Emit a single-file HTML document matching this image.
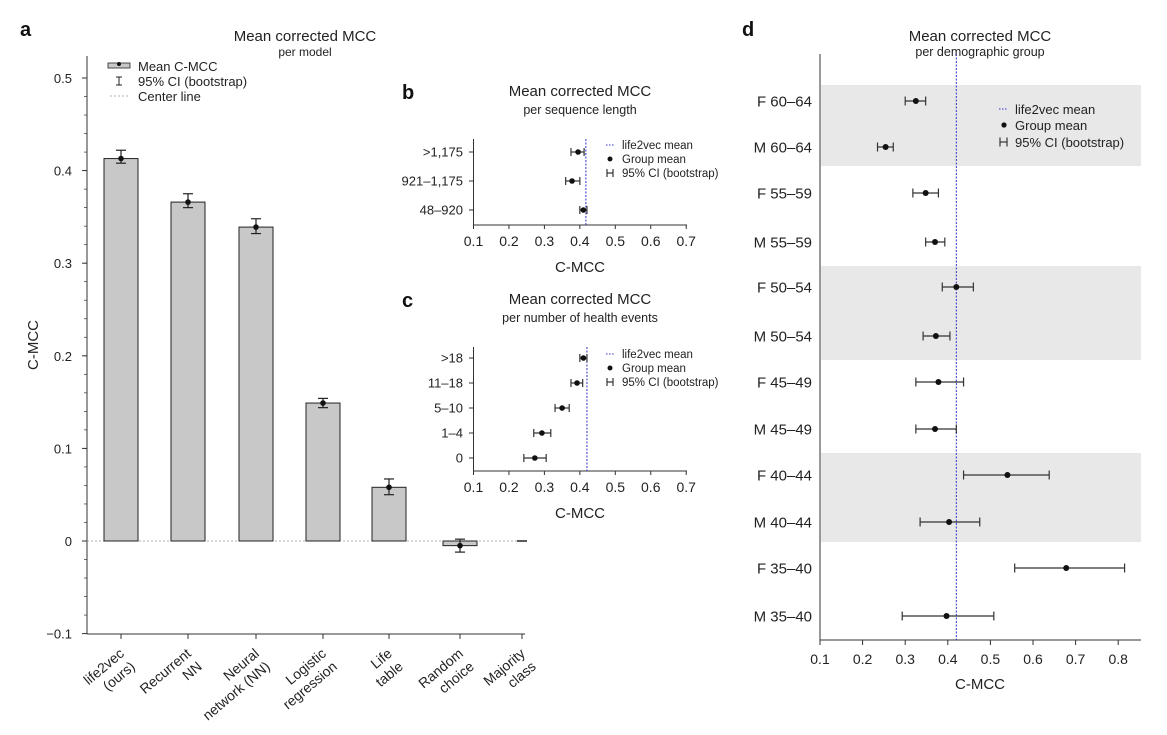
<!DOCTYPE html>
<html><head><meta charset="utf-8"><style>
body{margin:0;background:#fff}
svg{display:block;font-family:"Liberation Sans",sans-serif;fill:#222}
</style></head><body>
<svg id="s" width="1167" height="735"></svg>
<script>
// Panel a data
const aCats=["life2vec\n(ours)","Recurrent\nNN","Neural\nnetwork (NN)","Logistic\nregression","Life\ntable","Random\nchoice","Majority\nclass"];
const aVals=[0.413,0.366,0.339,0.149,0.058,-0.005,0];
const aLo=[0.408,0.360,0.332,0.144,0.050,-0.012,0];
const aHi=[0.422,0.375,0.348,0.154,0.067,0.002,0];
const aTicks=[-0.1,0,0.1,0.2,0.3,0.4,0.5];
// Panel b data
const bCats=[">1,175","921–1,175","48–920"];
const bVals=[0.395,0.378,0.410];
const bLo=[0.375,0.360,0.400];
const bHi=[0.412,0.400,0.420];
const bMean=0.417;
// Panel c data
const cCats=[">18","11–18","5–10","1–4","0"];
const cVals=[0.410,0.392,0.350,0.293,0.273];
const cLo=[0.400,0.375,0.330,0.270,0.242];
const cHi=[0.420,0.408,0.370,0.318,0.305];
const cMean=0.420;
const bcTicks=[0.1,0.2,0.3,0.4,0.5,0.6,0.7];
// Panel d data
const dCats=["F 60–64","M 60–64","F 55–59","M 55–59","F 50–54","M 50–54","F 45–49","M 45–49","F 40–44","M 40–44","F 35–40","M 35–40"];
const dVals=[0.325,0.254,0.348,0.370,0.420,0.372,0.378,0.370,0.540,0.403,0.678,0.397];
const dLo=[0.300,0.235,0.318,0.348,0.387,0.342,0.325,0.325,0.437,0.335,0.557,0.293];
const dHi=[0.348,0.272,0.378,0.393,0.460,0.405,0.437,0.420,0.638,0.475,0.815,0.508];
const dMean=0.420;
const dTicks=[0.1,0.2,0.3,0.4,0.5,0.6,0.7,0.8];

const S=document.getElementById('s');
function el(t,a,txt){const e=document.createElementNS('http://www.w3.org/2000/svg',t);for(const k in a)e.setAttribute(k,a[k]);if(txt!==undefined)e.textContent=txt;S.appendChild(e);return e;}
function line(x1,y1,x2,y2,st,w,da){return el('line',{x1,y1,x2,y2,stroke:st||'#333','stroke-width':w||1,'stroke-dasharray':da||'none'});}
function text(x,y,t,sz,anc,extra){const e=el('text',Object.assign({x,y,'font-size':sz,'text-anchor':anc||'start'},extra||{}),t);return e;}
function ebar(x1,x2,y,h){line(x1,y,x2,y,'#333',1.2);line(x1,y-h,x1,y+h,'#333',1.2);line(x2,y-h,x2,y+h,'#333',1.2);}

// ===== Panel a =====
const ay=v=>541-v*926;
const acx=[121,188,256,323,389,460,522];
let t=text(20,36,'a',20,'start',{'font-weight':'bold',fill:'#111'});

t=text(305,41,'Mean corrected MCC',15,'middle');
t=text(305,56,'per model',12,'middle');
line(87,56,87,634);line(87,634,525,634);
aTicks.forEach(v=>{line(82,ay(v),87,ay(v));t=text(72,ay(v)+5,v===0?'0':String(v).replace('-','−'),13,'end');});
for(let v=-0.1;v<0.5;v+=0.02){line(84,ay(v),87,ay(v),'#333',0.7);}
t=text(38,345,'C-MCC',15,'middle',{transform:'rotate(-90 38 345)'});
line(87,541,525,541,'#999',0.8,'2,2');
aVals.forEach((v,i)=>{
  const x=acx[i];
  line(x,634,x,639);
  if(i<6){
    const r=el('rect',{x:x-17,y:Math.min(ay(v),ay(0)),width:34,height:Math.abs(ay(v)-ay(0)),fill:'#c8c8c8',stroke:'#222','stroke-width':1});
    
    line(x,ay(aLo[i]),x,ay(aHi[i]),'#222',1.2);line(x-5,ay(aLo[i]),x+5,ay(aLo[i]),'#222',1.2);line(x-5,ay(aHi[i]),x+5,ay(aHi[i]),'#222',1.2);
    el('circle',{cx:x,cy:ay(v),r:2.8,fill:'#111'});
  } else {line(x-5,ay(v),x+5,ay(v),'#222',1.5);}
  const lines=aCats[i].split('\n');
  lines.forEach((l,j)=>{
    const g=el('text',{'font-size':14,'text-anchor':'end',x:0,y:j*17,transform:`translate(${x+4},${655}) rotate(-40)`},l);
    
  });
});
// legend a
el('rect',{x:108,y:63,width:22,height:5,fill:'#c8c8c8',stroke:'#222','stroke-width':0.8});
el('circle',{cx:119,cy:64,r:2,fill:'#111'});
text(138,71,'Mean C-MCC',13);
line(119,77,119,85,'#222');line(116,77,122,77,'#222');line(116,85,122,85,'#222');
text(138,86,'95% CI (bootstrap)',13);
line(110,96,128,96,'#999',0.8,'2,2');
text(138,101,'Center line',13);

// ===== Panel b & c =====
function forest(yTop,yBot,rows,cats,vals,lo,hi,mean,lbl,title,sub,legY,pfx){
  const x=v=>473.5+(v-0.1)*354.5;
  t=text(402,yTop-44+4,lbl,20,'start',{'font-weight':'bold',fill:'#111'});
  t=text(580,yTop-43,title,15,'middle');
  t=text(580,yTop-25,sub,12.5,'middle');
  line(473.5,yTop,473.5,yBot);line(473.5,yBot,687,yBot);
  bcTicks.forEach(v=>{line(x(v),yBot,x(v),yBot+4);t=text(x(v),yBot+21,String(v),14,'middle');});
  t=text(580,yBot+47,'C-MCC',15,'middle');
  line(x(mean),yTop,x(mean),yBot,'#3333cc',1,'2,1.5');
  cats.forEach((c,i)=>{
    const y=rows[i];
    line(469,y,473.5,y);
    t=text(463,y+4.5,c,13,'end');
    ebar(x(lo[i]),x(hi[i]),y,4);
    const d=el('circle',{cx:x(vals[i]),cy:y,r:2.8,fill:'#111'});
  });
  line(606,legY,614,legY,'#3333cc',1,'1.5,1.5');text(622,legY+4,'life2vec mean',11.5);
  el('circle',{cx:610,cy:legY+14,r:2.5,fill:'#111'});text(622,legY+18,'Group mean',11.5);
  ebar(607,613,legY+28,4);text(622,legY+32,'95% CI (bootstrap)',11.5);
}
forest(139,225,[152,181,210],bCats,bVals,bLo,bHi,bMean,'b','Mean corrected MCC','per sequence length',145,'panel-b');
forest(347,471,[358,383,408,433,458],cCats,cVals,cLo,cHi,cMean,'c','Mean corrected MCC','per number of health events',354,'panel-c');

// ===== Panel d =====
const dx=v=>820+(v-0.1)*426;
const dRows=[101,147,193,242,287,336,382,429,475,522,568,616];
t=text(742,36,'d',20,'start',{'font-weight':'bold',fill:'#111'});
t=text(980,41,'Mean corrected MCC',15,'middle');
t=text(980,56,'per demographic group',12.5,'middle');
[[85,166],[266,360],[453,542]].forEach(b=>{const r=el('rect',{x:821,y:b[0],width:320,height:b[1]-b[0],fill:'#e8e8e8'});});
line(820,54,820,640);line(820,640,1141,640);
dTicks.forEach(v=>{line(dx(v),640,dx(v),645);t=text(dx(v),664,String(v),14,'middle');});
t=text(980,689,'C-MCC',15,'middle');
line(dx(dMean),54,dx(dMean),640,'#3333cc',1,'2,1.5');
dCats.forEach((c,i)=>{
  const y=dRows[i];
  t=text(812,y+5.5,c,15,'end');
  ebar(dx(dLo[i]),dx(dHi[i]),y,4.5);
  const d=el('circle',{cx:dx(dVals[i]),cy:y,r:3,fill:'#111'});
});
line(999,109,1007,109,'#3333cc',1,'1.5,1.5');text(1015,114,'life2vec mean',13);
el('circle',{cx:1004,cy:125,r:2.6,fill:'#111'});text(1015,130,'Group mean',13);
ebar(1000,1007,142,4.5);text(1015,147,'95% CI (bootstrap)',13);
</script>
</body></html>
